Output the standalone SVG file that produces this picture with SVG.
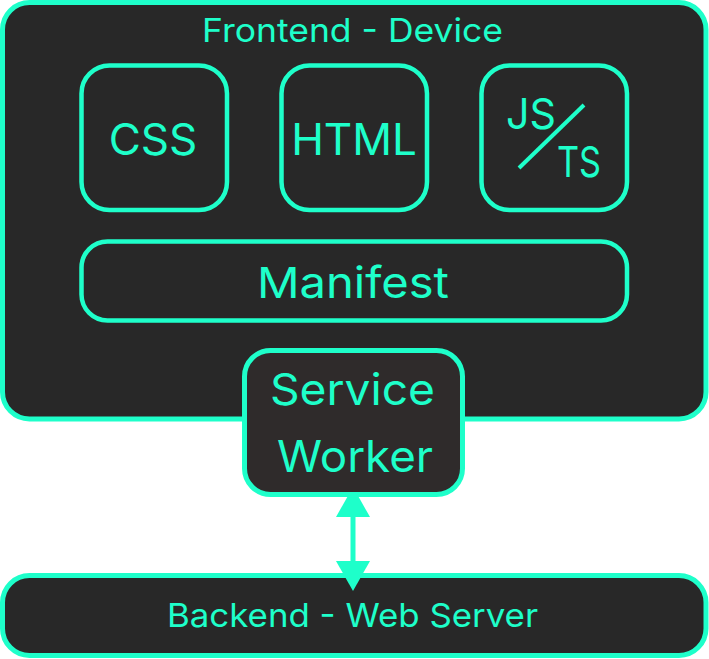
<svg xmlns="http://www.w3.org/2000/svg" width="709" height="659" viewBox="0 0 709 659">
<defs>
<style>
.box{fill:#282828;stroke:#1effca;stroke-width:5}
.inner{fill:none;stroke:#1effca;stroke-width:4.5}
.t{fill:#1effca;font-family:Inter,"Liberation Sans",sans-serif;text-anchor:middle}
</style>
</defs>
<rect width="709" height="659" fill="#ffffff"/>
<g id="frontend">
<rect class="box" x="2.5" y="2.5" width="703.5" height="416.5" rx="27"/>
<text class="t" x="352.5" y="42" font-size="33" textLength="301" lengthAdjust="spacingAndGlyphs">Frontend - Device</text>
</g>
<g id="css">
<rect class="inner" x="81.5" y="65.5" width="145.5" height="144.5" rx="28"/>
<text class="t" x="153" y="155" font-size="44">CSS</text>
</g>
<g id="html">
<rect class="inner" x="281.5" y="65.5" width="145.5" height="144.5" rx="28"/>
<text class="t" x="354" y="155" font-size="44">HTML</text>
</g>
<g id="jsts">
<rect class="inner" x="481.5" y="65.5" width="145.5" height="144.5" rx="28"/>
<text class="t" x="531" y="129" font-size="43" textLength="50" lengthAdjust="spacingAndGlyphs">JS</text>
<text class="t" x="579" y="177" font-size="43" textLength="44" lengthAdjust="spacingAndGlyphs">TS</text>
<line x1="519" y1="168" x2="584" y2="105" stroke="#1effca" stroke-width="4"/>
</g>
<g id="manifest">
<rect class="inner" x="81.5" y="241.5" width="545.5" height="79" rx="26"/>
<text class="t" x="353" y="298" font-size="43" textLength="192" lengthAdjust="spacingAndGlyphs">Manifest</text>
</g>
<g id="backend">
<rect class="box" x="2.5" y="575.5" width="703.5" height="80" rx="27"/>
<text class="t" x="352.5" y="627" font-size="33" textLength="371" lengthAdjust="spacingAndGlyphs">Backend - Web Server</text>
</g>
<g id="connectors">
<line x1="353" y1="510" x2="353" y2="568" stroke="#1effca" stroke-width="5"/>
<polygon points="353,487 370,517 336,517" fill="#1effca"/>
<polygon points="353,591 370,561 336,561" fill="#1effca"/>
</g>
<g id="serviceworker">
<rect x="244.5" y="350.5" width="218" height="144" rx="26" fill="#2f2b2b" stroke="#1effca" stroke-width="5"/>
<text class="t" x="352.5" y="405" font-size="44" textLength="165" lengthAdjust="spacingAndGlyphs">Service</text>
<text class="t" x="355" y="472" font-size="44" textLength="156" lengthAdjust="spacingAndGlyphs">Worker</text>
</g>
</svg>
